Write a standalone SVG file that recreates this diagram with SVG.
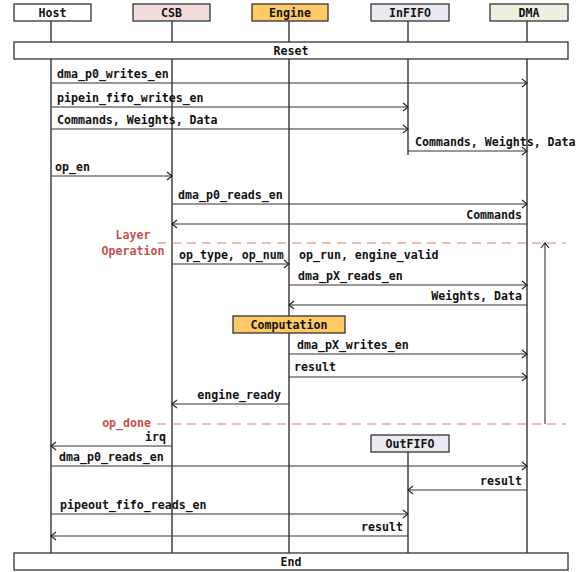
<svg xmlns="http://www.w3.org/2000/svg" width="581" height="572" viewBox="0 0 581 572">
<defs>
<marker id="ah" markerWidth="8" markerHeight="10" refX="6" refY="5" orient="auto" markerUnits="userSpaceOnUse">
<path d="M1,1 L6,5 L1,9" fill="none" stroke="#222" stroke-width="1.1"/>
</marker>
<style>
text{font-family:"DejaVu Sans Mono","Liberation Mono",monospace;font-size:11.6px;font-weight:bold;fill:#111}
.box{stroke:#333;stroke-width:1.3}
.life{stroke:#222;stroke-width:1.3;fill:none}
.msg{stroke:#333;stroke-width:1.1;fill:none}
.arr{marker-end:url(#ah)}
.red{fill:#c9504c;font-weight:bold}
.dash{stroke:#e07a76;stroke-width:1.2;stroke-dasharray:9,6;fill:none}
.mid{text-anchor:middle}
.end{text-anchor:end}
</style>
</defs>
<rect width="581" height="572" fill="#fff"/>
<g id="lifelines">
<line class="life" x1="51" y1="21" x2="51" y2="553"/>
<line class="life" x1="172" y1="21" x2="172" y2="553"/>
<line class="life" x1="289" y1="21" x2="289" y2="553"/>
<line class="life" x1="408" y1="21" x2="408" y2="155"/>
<line class="life" x1="408" y1="452" x2="408" y2="553"/>
<line class="life" x1="527" y1="21" x2="527" y2="553"/>
</g>
<g id="host"><rect class="box" x="14" y="4" width="77" height="17" fill="#fff"/><text class="mid" x="52.5" y="16.5">Host</text></g>
<g id="csb"><rect class="box" x="133" y="4" width="77" height="17" fill="#f2dcdb"/><text class="mid" x="171.5" y="16.5">CSB</text></g>
<g id="engine"><rect class="box" x="252" y="4" width="76" height="17" fill="#ffc966"/><text class="mid" x="290" y="16.5">Engine</text></g>
<g id="infifo"><rect class="box" x="371" y="4" width="78" height="17" fill="#ebe8f2"/><text class="mid" x="410" y="16.5">InFIFO</text></g>
<g id="dma"><rect class="box" x="490" y="4" width="78" height="17" fill="#ebf1de"/><text class="mid" x="529" y="16.5">DMA</text></g>
<g id="reset"><rect class="box" x="14" y="42" width="554" height="17" fill="#fff"/><text class="mid" x="291" y="54.5">Reset</text></g>
<g id="end"><rect class="box" x="14" y="553" width="554" height="17" fill="#fff"/><text class="mid" x="291" y="565.5">End</text></g>
<g id="computation"><rect class="box" x="233" y="316" width="112" height="17" fill="#ffc966"/><text class="mid" x="289" y="328.5">Computation</text></g>
<g id="outfifo"><rect class="box" x="371" y="435" width="78" height="17" fill="#ebe8f2"/><text class="mid" x="410" y="447.5">OutFIFO</text></g>
<g id="connectors">
<line class="msg arr" x1="51" y1="83" x2="527" y2="83"/>
<line class="msg arr" x1="51" y1="107" x2="408" y2="107"/>
<line class="msg arr" x1="51" y1="129" x2="408" y2="129"/>
<line class="msg arr" x1="408" y1="151" x2="527" y2="151"/>
<line class="msg arr" x1="51" y1="176" x2="172" y2="176"/>
<line class="msg arr" x1="172" y1="204" x2="527" y2="204"/>
<line class="msg arr" x1="527" y1="224" x2="172" y2="224"/>
<line class="msg arr" x1="172" y1="264" x2="289" y2="264"/>
<line class="msg arr" x1="289" y1="285" x2="527" y2="285"/>
<line class="msg arr" x1="527" y1="305" x2="289" y2="305"/>
<line class="msg arr" x1="289" y1="354" x2="527" y2="354"/>
<line class="msg arr" x1="289" y1="377" x2="527" y2="377"/>
<line class="msg arr" x1="289" y1="404" x2="172" y2="404"/>
<line class="msg arr" x1="172" y1="446" x2="51" y2="446"/>
<line class="msg arr" x1="51" y1="466" x2="527" y2="466"/>
<line class="msg arr" x1="527" y1="490" x2="408" y2="490"/>
<line class="msg arr" x1="51" y1="514" x2="408" y2="514"/>
<line class="msg arr" x1="408" y1="536" x2="51" y2="536"/>
<line class="dash" x1="157" y1="243" x2="566" y2="243"/>
<line class="dash" x1="157" y1="424" x2="566" y2="424"/>
<line class="msg arr" x1="545" y1="424" x2="545" y2="243"/>
</g>
<g id="labels">
<text x="57" y="78">dma_p0_writes_en</text>
<text x="57" y="102">pipein_fifo_writes_en</text>
<text x="57" y="124">Commands, Weights, Data</text>
<text x="415" y="146">Commands, Weights, Data</text>
<text x="55" y="171">op_en</text>
<text x="178" y="199">dma_p0_reads_en</text>
<text class="end" x="522" y="219">Commands</text>
<text class="red mid" x="133" y="239">Layer</text>
<text class="red mid" x="133" y="255">Operation</text>
<text x="179" y="259">op_type, op_num</text>
<text x="299" y="259">op_run, engine_valid</text>
<text x="298" y="280">dma_pX_reads_en</text>
<text class="end" x="522" y="300">Weights, Data</text>
<text x="297" y="349">dma_pX_writes_en</text>
<text x="294" y="371">result</text>
<text class="end" x="281" y="399">engine_ready</text>
<text class="red end" x="151" y="427">op_done</text>
<text class="end" x="166" y="441">irq</text>
<text x="59" y="461">dma_p0_reads_en</text>
<text class="end" x="522" y="485">result</text>
<text x="60" y="509">pipeout_fifo_reads_en</text>
<text class="end" x="403" y="531">result</text>
</g>
</svg>
